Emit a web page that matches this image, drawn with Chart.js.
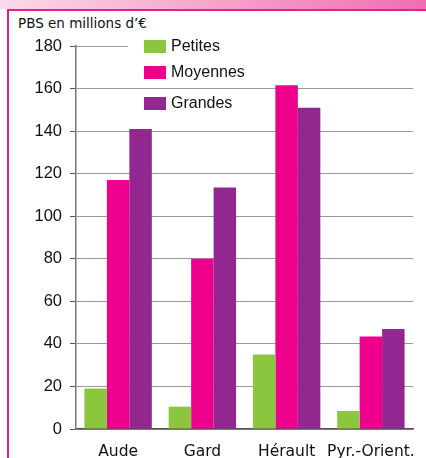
<!DOCTYPE html>
<html>
<head>
<meta charset="utf-8">
<script src="https://cdn.jsdelivr.net/npm/chart.js@4"></script>
<style>
  html, body { margin: 0; padding: 0; background: #fff; }
  #wrap { position: relative; width: 426px; height: 458px; overflow: hidden; }
  #header { position: absolute; left: 0; top: 0; width: 426px; height: 9px;
            background: linear-gradient(to right, #fbd9e9, #f49ac6 60%, #ef6fb0); }
  #frame { position: absolute; left: 7px; top: 9px; width: 430px; height: 460px;
           border-left: 2px solid #ec1c8c; border-top: 2px solid #ec1c8c; }
  #unit { position: absolute; left: 18px; top: 15px; font: 13.5px "DejaVu Sans", sans-serif; color: #111; }
  canvas { position: absolute; left: 0; top: 0; }
</style>
</head>
<body>
<div id="wrap">
  <div id="header"></div>
  <div id="frame"></div>
  <div id="unit">PBS en millions d’€</div>
  <canvas id="chart" width="426" height="458"></canvas>
</div>
<script>
// valeurs (millions d'euros)
const categories = ['Aude', 'Gard', 'Hérault', 'Pyr.-Orient.'];
const petites = [19, 10.5, 35, 8.5];
const moyennes = [117, 80, 161.5, 43.5];
const grandes = [141, 113.5, 151, 47];
const yTicks = [0, 20, 40, 60, 80, 100, 120, 140, 160, 180];

const green = '#8cc63f';
const magenta = '#ec008c';
const purple = '#92278f';

// legende dessinee dans la zone du graphique, sur fond blanc
const insideLegend = {
    id: 'insideLegend',
    afterDatasetsDraw(chart) {
        const ctx = chart.ctx;
        const rows = [46, 72, 103];
        ctx.save();
        ctx.fillStyle = '#fff';
        ctx.fillRect(128, 38, 286, 40);
        ctx.font = '16px "Liberation Sans", Arial, sans-serif';
        ctx.textBaseline = 'middle';
        chart.data.datasets.forEach((ds, i) => {
            ctx.fillStyle = ds.backgroundColor;
            ctx.fillRect(144, rows[i] - 6, 22, 13);
            ctx.fillStyle = '#111';
            ctx.fillText(ds.label, 171, rows[i] + 1);
        });
        ctx.restore();
    }
};

new Chart(document.getElementById('chart'), {
    type: 'bar',
    data: {
        labels: categories,
        datasets: [
            { label: 'Petites', data: petites, backgroundColor: green },
            { label: 'Moyennes', data: moyennes, backgroundColor: magenta },
            { label: 'Grandes', data: grandes, backgroundColor: purple }
        ]
    },
    options: {
        responsive: false,
        animation: false,
        layout: { padding: { left: 0, right: 13, top: 46, bottom: 0 } },
        plugins: {
            legend: { display: false },
            tooltip: { enabled: false }
        },
        datasets: {
            bar: { categoryPercentage: 0.8, barPercentage: 1.0, borderWidth: 0 }
        },
        scales: {
            x: {
                grid: { display: false },
                border: { display: true, color: '#555', width: 1.5 },
                ticks: {
                    color: '#111',
                    padding: 6,
                    maxRotation: 0,
                    autoSkip: false,
                    font: { family: '"DejaVu Sans", sans-serif', size: 15.5 }
                },
                afterFit: s => { s.height = 29; }
            },
            y: {
                min: 0,
                max: 180,
                afterBuildTicks: s => { s.ticks = yTicks.map(v => ({ value: v })); },
                grid: { color: '#999', lineWidth: 1, tickLength: 6, tickColor: '#555' },
                border: { display: true, color: '#777', width: 1.5 },
                ticks: {
                    color: '#111',
                    padding: 8,
                    font: { family: '"Liberation Sans", Arial, sans-serif', size: 16.5 }
                },
                afterFit: s => { s.width = 76; }
            }
        }
    },
    plugins: [insideLegend]
});
</script>
</body>
</html>
